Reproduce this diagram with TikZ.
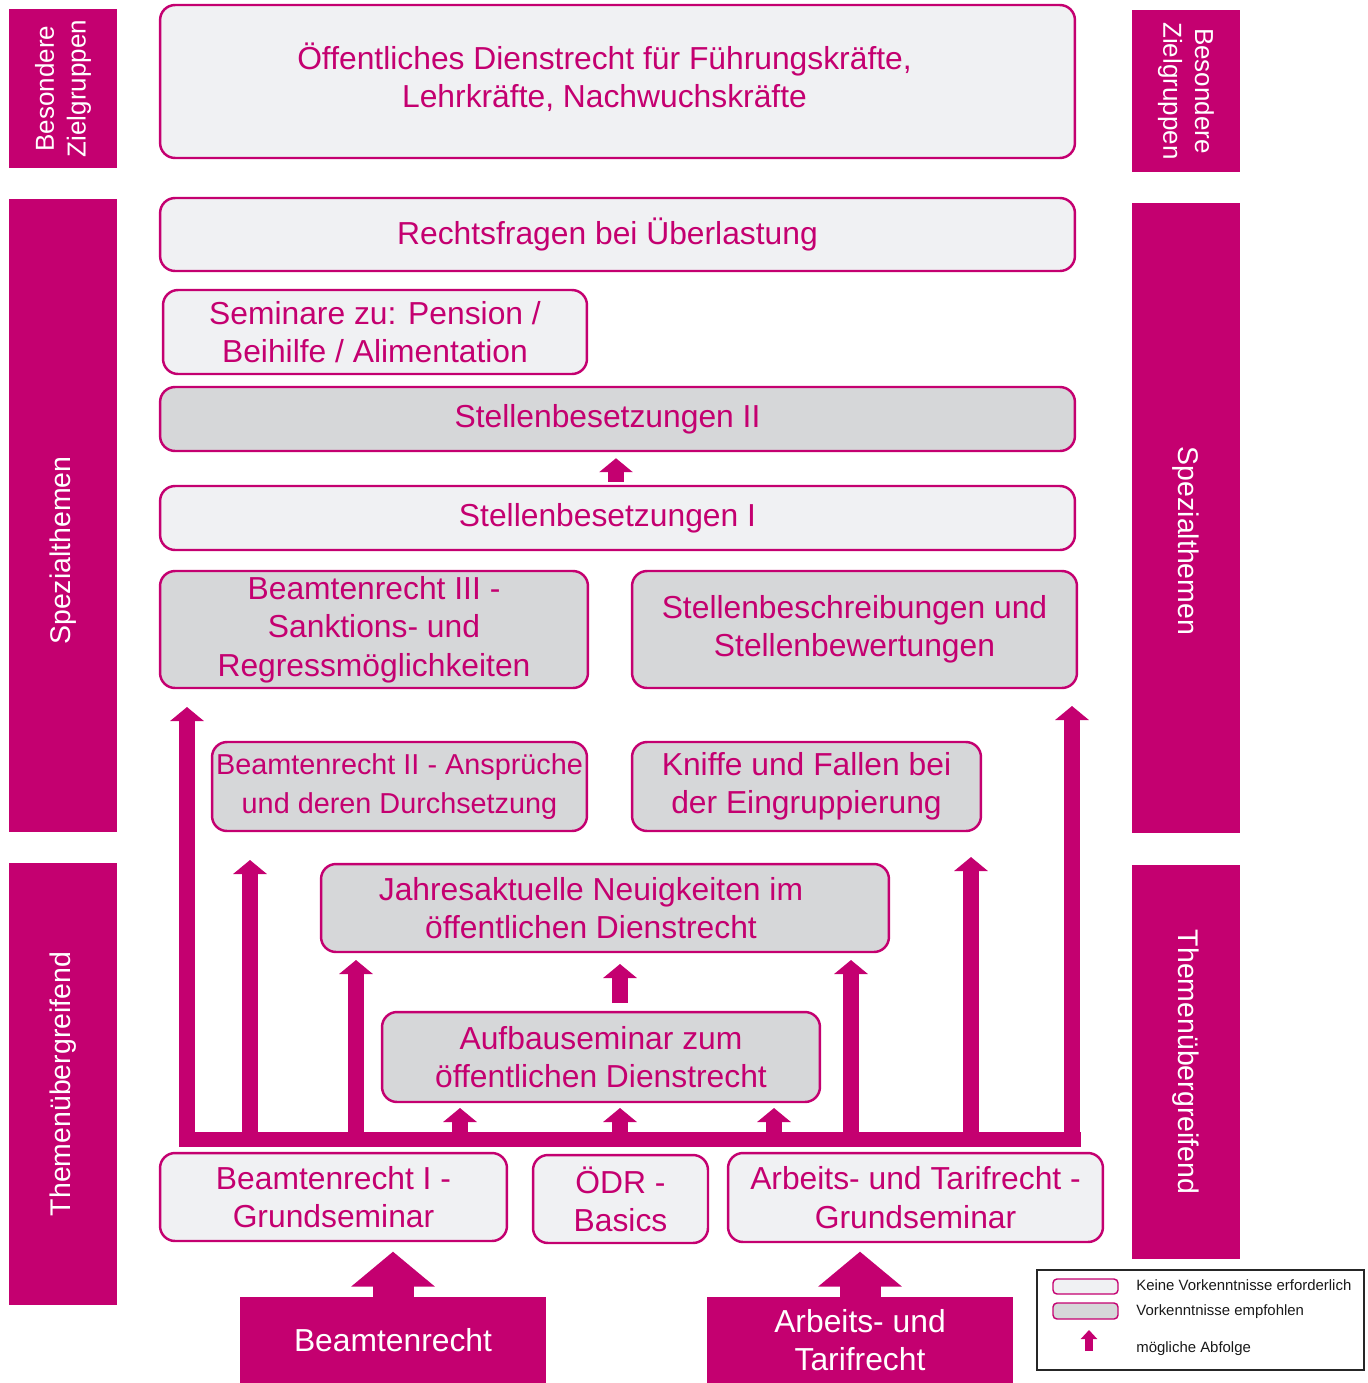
\documentclass[tikz,border=0pt]{standalone}
\usepackage{fontspec}
\setmainfont{Liberation Sans}
\usetikzlibrary{arrows.meta}
\definecolor{odmag}{RGB}{196,0,112}
\definecolor{odhell}{RGB}{240,241,243}
\definecolor{odgrau}{RGB}{214,215,217}
\tikzset{
  kurs/.style={draw=odmag, line width=1.4pt, rounded corners=0.3cm, text=odmag, align=center, inner sep=0pt, font=\fontsize{18.1pt}{21.8pt}\selectfont},
  ohne/.style={kurs, fill=odhell},
  mit/.style={kurs, fill=odgrau},
  leiste/.style={fill=odmag, text=white, align=center, inner sep=0pt, minimum height=2.16cm, font=\fontsize{16.2pt}{19pt}\selectfont},
  einstieg/.style={fill=odmag, text=white, align=center, inner sep=0pt, minimum width=6.12cm, minimum height=1.72cm, font=\fontsize{18.1pt}{21.8pt}\selectfont},
  pfeil/.style={draw=odmag, line width=0.31cm, -{Triangle[width=0.66cm,length=0.28cm]}},
  grosspfeil/.style={draw=odmag, line width=0.82cm, -{Triangle[width=1.64cm,length=0.7cm]}},
  legtext/.style={anchor=west, text=black!90, inner sep=0pt, font=\fontsize{8.5pt}{10pt}\selectfont}
}
\begin{document}
\begin{tikzpicture}[x=0.02cm, y=-0.02cm]
  \useasboundingbox (0,0) rectangle (1368,1383);
  % Leisten links und rechts
  \node[leiste, rotate=90, minimum width=3.18cm, font=\fontsize{14.8pt}{18pt}\selectfont] (lbz) at (63,88.5) {Besondere\\Zielgruppen};
  \node[leiste, rotate=90, minimum width=12.66cm] (lspez) at (63,515.5) {Spezialthemen\hspace*{1.4cm}};
  \node[leiste, rotate=90, minimum width=8.84cm] (lthem) at (63,1084) {Themenübergreifend};
  \node[leiste, rotate=-90, minimum width=3.24cm, font=\fontsize{14.8pt}{18pt}\selectfont] (rbz) at (1186,91) {Besondere\\Zielgruppen};
  \node[leiste, rotate=-90, minimum width=12.6cm] (rspez) at (1186,518) {\hspace*{0.92cm}Spezialthemen};
  \node[leiste, rotate=-90, minimum width=7.88cm] (rthem) at (1186,1062) {Themenübergreifend};
  % Seminare
  \node[ohne, minimum width=18.3cm, minimum height=3.06cm] (fuehrung) at (617.5,81.5) {Öffentliches Dienstrecht für Führungskräfte,\hspace*{0.52cm}\\Lehrkräfte, Nachwuchskräfte\hspace*{0.52cm}\mbox{}\\[-15pt]};
  \node[ohne, minimum width=18.3cm, minimum height=1.46cm] (ueberl) at (617.5,234.5) {Rechtsfragen bei Überlastung\hspace*{0.4cm}};
  \node[ohne, minimum width=8.48cm, minimum height=1.68cm] (pension) at (375,332) {Seminare zu: Pension /\\Beihilfe / Alimentation};
  \node[mit, minimum width=18.3cm, minimum height=1.28cm] (stellenII) at (617.5,419) {Stellenbesetzungen II\hspace*{0.4cm}};
  \node[ohne, minimum width=18.3cm, minimum height=1.28cm] (stellenI) at (617.5,518) {Stellenbesetzungen I\hspace*{0.4cm}};
  \node[mit, minimum width=8.56cm, minimum height=2.34cm] (beamtIII) at (374,629.5) {Beamtenrecht III -\\Sanktions- und\\Regressmöglichkeiten};
  \node[mit, minimum width=8.9cm, minimum height=2.34cm] (beschr) at (854.5,629.5) {Stellenbeschreibungen und\\Stellenbewertungen};
  \node[mit, minimum width=7.5cm, minimum height=1.78cm, font=\fontsize{16.4pt}{21.8pt}\selectfont] (beamtII) at (399.5,786.5) {Beamtenrecht II - Ansprüche\\und deren Durchsetzung};
  \node[mit, minimum width=6.98cm, minimum height=1.78cm] (kniffe) at (806.5,786.5) {Kniffe und Fallen bei\\der Eingruppierung};
  \node[mit, minimum width=11.36cm, minimum height=1.76cm] (jahres) at (605,908) {Jahresaktuelle Neuigkeiten im\hspace*{0.56cm}\\öffentlichen Dienstrecht\hspace*{0.56cm}};
  \node[mit, minimum width=8.76cm, minimum height=1.8cm] (aufbau) at (601,1057) {Aufbauseminar zum\\öffentlichen Dienstrecht};
  \node[ohne, minimum width=6.94cm, minimum height=1.76cm] (beamtI) at (333.5,1197) {Beamtenrecht I -\\Grundseminar};
  \node[ohne, minimum width=3.5cm, minimum height=1.76cm] (basics) at (620.5,1199) {ÖDR -\\Basics};
  \node[ohne, minimum width=7.5cm, minimum height=1.78cm] (arbeitsI) at (915.5,1197.5) {Arbeits- und Tarifrecht -\\Grundseminar};
  \node[einstieg] (beamtR) at (393,1340) {Beamtenrecht};
  \node[einstieg] (arbR) at (860,1340) {Arbeits- und\\Tarifrecht};
  % Abfolge
  \fill[odmag] (179,1132) rectangle (1081,1147);
  \foreach \x/\y [count=\i] in {187/707, 250/860, 356/960, 460/1108, 620/1108, 774/1108, 851/960, 971/857, 1072/706} {
    \coordinate (fuss\i) at (\x,1140);
    \coordinate (spitze\i) at (\x,\y);
    \draw[pfeil] (fuss\i) -- (spitze\i);
  }
  \coordinate (aufbauoben) at (620,1003);
  \coordinate (jahresunten) at (620,964);
  \draw[pfeil] (aufbauoben) -- (jahresunten);
  \draw[pfeil] ([yshift=0.06cm]stellenI.north -| 616,0) -- ([yshift=-0.12cm]stellenII.south -| 616,0);
  \draw[grosspfeil] (beamtR.north) -- ++(0,-45);
  \draw[grosspfeil] (arbR.north) -- ++(0,-45);
  % Legende
  \node[draw=black!85, line width=0.8pt, minimum width=6.54cm, minimum height=2cm, inner sep=0pt] (legende) at (1200.5,1320) {};
  \node[ohne, minimum width=1.3cm, minimum height=0.3cm, rounded corners=0.08cm, line width=0.8pt] (lohne) at (1085.5,1286.5) {};
  \node[mit, minimum width=1.3cm, minimum height=0.32cm, rounded corners=0.08cm, line width=0.8pt] (lmit) at (1085.5,1311) {};
  \coordinate (lfuss) at (1089,1351);
  \coordinate (lspitze) at (1089,1330);
  \draw[odmag, line width=0.16cm, -{Triangle[width=0.32cm,length=0.18cm]}] (lfuss) -- (lspitze);
  \node[legtext] (tohne) at (1136,1285) {Keine Vorkenntnisse erforderlich};
  \node[legtext] (tmit) at (1136,1312) {Vorkenntnisse empfohlen};
  \node[legtext] (tfolge) at (1136,1349) {mögliche Abfolge};
\end{tikzpicture}
\end{document}
